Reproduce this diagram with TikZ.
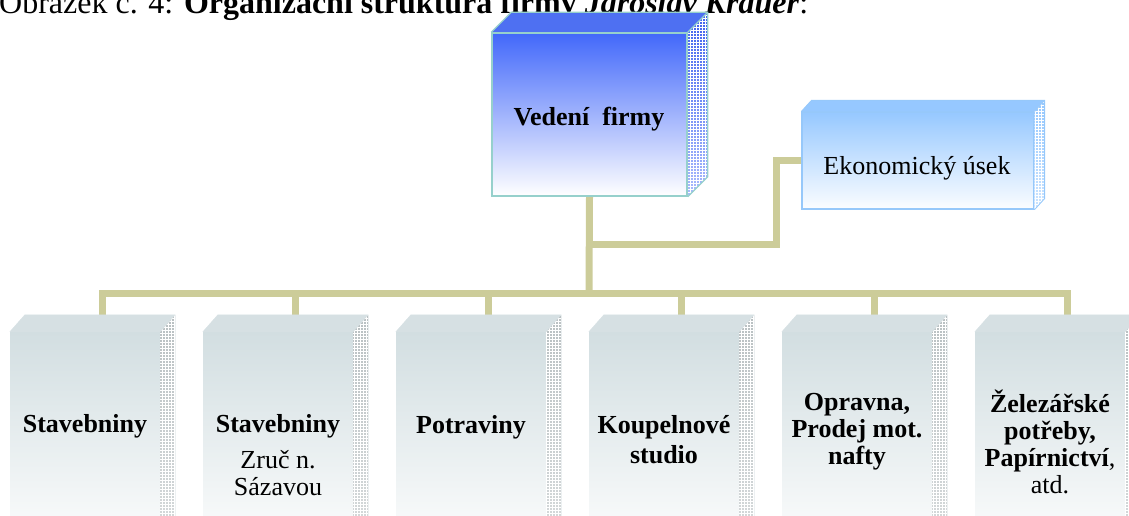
\documentclass[tikz,border=0pt]{standalone}
\usepackage{fontspec}
\setmainfont{Liberation Serif}
\usetikzlibrary{calc,patterns}
\definecolor{conn}{RGB}{204,204,153}
\definecolor{vblue}{RGB}{66,104,250}
\definecolor{vtop}{RGB}{78,112,242}
\definecolor{vedge}{RGB}{150,208,204}
\definecolor{eblue}{RGB}{150,200,255}
\definecolor{eedge}{RGB}{150,200,250}
\definecolor{gfront}{RGB}{210,222,225}
\definecolor{gtop}{RGB}{214,224,227}
\definecolor{gside}{RGB}{185,192,194}
\newcommand\boxfaces[6]{%
  \fill[#4] (#1.north west) -- ++(#2,-#3) -- ($(#1.north east)+(#2,-#3)$) -- (#1.north east) -- cycle;
  \shade[#5] (#1.north east) -- ++(#2,-#3) -- ($(#1.south east)+(#2,-#3)$) -- (#1.south east) -- cycle;
  \fill[pattern=grid,pattern color=white] (#1.north east) -- ++(#2,-#3) -- ($(#1.south east)+(#2,-#3)$) -- (#1.south east) -- cycle;
  \draw[#6] (#1.north west) -- ++(#2,-#3) -- ($(#1.north east)+(#2,-#3)$) -- ($(#1.south east)+(#2,-#3)$) -- (#1.south east)
        (#1.north east) -- ++(#2,-#3);
}
\begin{document}
\begin{tikzpicture}[x=1pt,y=-1pt,
  wire/.style={draw=conn,line width=7pt},
  vfront/.style={rectangle,minimum width=195pt,minimum height=163pt,inner sep=0pt,
    top color=vblue,bottom color=white,draw=vedge,line width=1.5pt},
  efront/.style={rectangle,minimum width=232pt,minimum height=97pt,inner sep=0pt,
    top color=eblue,bottom color=white!96!eblue,draw=eedge,line width=1.2pt},
  gfrontbox/.style={rectangle,minimum width=150pt,minimum height=228pt,inner sep=0pt,
    top color=gfront,bottom color=white},
  txt/.style={font=\fontsize{26}{27}\selectfont,inner sep=0pt,anchor=base},
]
\useasboundingbox (0,0) rectangle (1129,516);
\clip (0,0) rectangle (1129,516);

% title (cut at the top)
\node[anchor=base west,inner sep=0pt,font=\fontsize{32}{34}\selectfont] (title) at (-1,14)
  {Obrázek č. 4: \textbf{Organizační struktura firmy \textit{Jaroslav Krauer}}:};

% front faces
\node[vfront] (v) at (589.5,114.5) {};
\node[efront] (e) at (918,160.5) {};
\foreach \i in {1,...,6}{
  \node[gfrontbox] (b\i) at ({85+193*(\i-1)},446) {};
}

% connectors
\coordinate (bar) at (589,293);
\coordinate (ej) at (589,244);
\coordinate (ek) at (776,244);
\foreach \i in {1,...,6}{
  \coordinate (d\i) at ($(b\i.north)+(17,-17)$);
  \draw[wire] (bar) -| (d\i);
}
\draw[wire] (v.south) -- (bar);
\draw[wire] (e.west) -| (ek) -- (ej);

% 3D faces
\boxfaces{v}{20}{20}{vtop}{top color=vblue!95!black,bottom color=vblue!45!white}{vedge,line width=1.2pt}
\node[vfront,fill opacity=0,draw=vedge] at (v.center) {};
\boxfaces{e}{10}{11}{eblue}{top color=eblue,bottom color=eblue!50!white}{eedge,line width=0.8pt}
\foreach \i in {1,...,6}{
  \boxfaces{b\i}{15}{17}{gtop}{top color=gside,bottom color=gside!55!white}{gtop,line width=0.3pt}
}

% texts
\node[txt] (tv) at (589,126) {\textbf{Vedení\ \ firmy}};
\node[txt] (te) at (917,174) {Ekonomický úsek};
\node[txt] (t1) at (85,432) {\textbf{Stavebniny}};
\node[txt] (t2) at (278,432) {\begin{tabular}[t]{@{}c@{}}\textbf{Stavebniny}\\[9pt] Zruč n.\\ Sázavou\end{tabular}};
\node[txt] (t3) at (471,433) {\textbf{Potraviny}};
\node[txt] (t4) at (664,433) {\begin{tabular}[t]{@{}c@{}}\textbf{Koupelnové}\\[3pt] \textbf{studio}\end{tabular}};
\node[txt] (t5) at (857,410) {\begin{tabular}[t]{@{}c@{}}\textbf{Opravna,}\\ \textbf{Prodej mot.}\\ \textbf{nafty}\end{tabular}};
\node[txt] (t6) at (1050,412) {\begin{tabular}[t]{@{}c@{}}\textbf{Železářské}\\ \textbf{potřeby,}\\ \textbf{Papírnictví},\\ atd.\end{tabular}};
\end{tikzpicture}
\end{document}
